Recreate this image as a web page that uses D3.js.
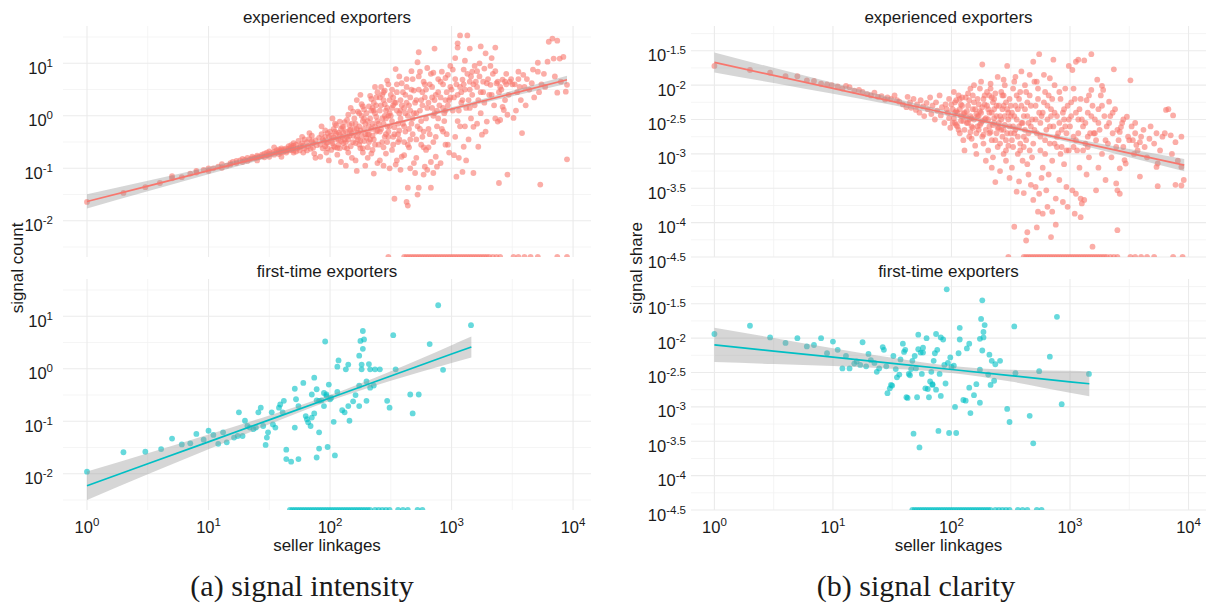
<!DOCTYPE html>
<html>
<head>
<meta charset="utf-8">
<script src="https://cdn.jsdelivr.net/npm/d3@7"></script>
<style>
    body { margin: 0; background: #fff; }
    svg text { font-family: "Liberation Sans", Arial, sans-serif; fill: #1a1a1a; }
</style>
</head>
<body>
<div id="chart"></div>
<script>
// all values are log10 (seller linkages, signal)

// experienced exporters, signal count
var expCount = [
    [0.00,-1.64],[0.30,-1.47],[0.48,-1.36],[0.60,-1.28],[0.70,-1.19],[0.70,-1.15],[0.78,-1.17],[0.85,-1.10],[0.90,-1.08],[0.90,-1.05],
    [0.96,-1.03],[1.00,-1.00],[1.00,-1.05],[1.04,-1.00],[1.08,-0.97],[1.11,-0.99],[1.11,-0.92],[1.15,-0.95],[1.18,-0.93],[1.18,-0.90],
    [1.20,-0.88],[1.23,-0.90],[1.23,-0.86],[1.26,-0.85],[1.28,-0.88],[1.28,-0.82],[1.30,-0.84],[1.32,-0.80],[1.32,-0.86],[1.34,-0.83],
    [1.36,-0.78],[1.36,-0.81],[1.38,-0.80],[1.40,-0.76],[1.40,-0.79],[1.40,-0.85],[1.42,-0.78],[1.44,-0.74],[1.44,-0.77],[1.46,-0.79],
    [1.46,-0.72],[1.48,-0.75],[1.48,-0.70],[1.50,-0.73],[1.50,-0.78],[1.50,-0.68],[1.52,-0.71],[1.54,-0.69],[1.54,-0.74],[1.54,-0.60],
    [1.56,-0.70],[1.56,-0.66],[1.58,-0.68],[1.58,-0.73],[1.58,-0.64],[1.60,-0.66],[1.60,-0.70],[1.60,-0.62],[1.60,-0.78],[1.62,-0.64],
    [1.62,-0.68],[1.64,-0.62],[1.64,-0.67],[1.64,-0.70],[1.66,-0.63],[1.66,-0.58],[1.66,-0.66],[1.68,-0.60],[1.68,-0.65],[1.68,-0.56],
    [1.70,-0.61],[1.70,-0.57],[1.70,-0.66],[1.70,-0.70],[1.70,-0.52],
    [1.72,-0.55],[1.73,-0.62],[1.74,-0.48],[1.75,-0.66],[1.76,-0.58],[1.77,-0.52],[1.78,-0.70],[1.79,-0.45],[1.75,-0.60],[1.77,-0.40],
    [1.78,-0.57],[1.72,-0.68],[1.79,-0.62],
    [1.81,-0.50],[1.82,-0.58],[1.83,-0.44],[1.84,-0.63],[1.85,-0.38],[1.86,-0.52],[1.87,-0.72],[1.88,-0.47],[1.89,-0.56],[1.83,-0.33],
    [1.86,-0.61],[1.88,-0.80],[1.85,-0.49],[1.81,-0.66],
    [1.91,-0.42],[1.92,-0.55],[1.93,-0.35],[1.94,-0.62],[1.95,-0.48],[1.96,-0.28],[1.97,-0.70],[1.98,-0.51],[1.99,-0.40],[1.92,-0.78],
    [1.94,-0.45],[1.96,-0.58],[1.98,-0.33],[1.99,-0.85],[1.93,-0.20],[1.97,-0.52],
    [2.01,-0.38],[2.02,-0.52],[2.03,-0.25],[2.04,-0.60],[2.05,-0.44],[2.06,-0.74],[2.07,-0.32],[2.08,-0.11],[2.09,-0.48],[2.01,-0.65],
    [2.03,-0.41],[2.05,-0.18],[2.06,-0.61],[2.08,-0.36],[2.09,-0.88],[2.02,-0.05],[2.04,-0.30],[2.07,-0.55],[2.10,-0.21],
    [2.11,-0.21],[2.12,-0.45],[2.13,-0.30],[2.14,-0.62],[2.15,0.02],[2.16,-0.38],[2.17,-0.27],[2.18,-0.80],[2.19,0.08],[2.11,-0.52],
    [2.12,-0.12],[2.14,-0.40],[2.15,-0.70],[2.16,-0.18],[2.18,-0.33],[2.19,-0.50],[2.13,-0.95],[2.17,0.15],[2.20,-0.25],[2.12,-0.60],
    [2.21,-0.15],[2.22,-0.40],[2.23,0.08],[2.24,-0.55],[2.25,-0.28],[2.26,0.22],[2.27,-0.70],[2.28,-0.05],[2.29,-0.35],[2.21,-0.85],
    [2.22,0.30],[2.24,-0.20],[2.25,-0.48],[2.26,0.00],[2.27,-0.62],[2.28,0.12],[2.29,-0.95],[2.23,-0.32],[2.25,0.40],[2.27,-0.10],
    [2.30,-0.42],[2.22,-1.05],[2.28,-0.25],
    [2.31,-0.10],[2.32,0.18],[2.33,-0.45],[2.34,0.32],[2.35,-0.65],[2.36,-1.10],[2.37,0.05],[2.38,-0.30],[2.39,0.45],[2.31,-0.80],
    [2.32,-0.20],[2.34,0.10],[2.35,-0.38],[2.36,0.25],[2.37,-0.55],[2.38,-0.02],[2.39,-0.90],[2.33,0.38],[2.35,-0.15],[2.37,0.55],
    [2.39,-0.28],[2.31,-0.60],[2.34,-0.72],[2.38,0.20],
    [2.41,0.10],[2.42,-0.25],[2.43,0.40],[2.44,-0.60],[2.45,0.22],[2.46,-0.05],[2.47,0.67],[2.48,-0.40],[2.49,0.30],[2.41,-0.85],
    [2.42,0.55],[2.44,-0.15],[2.45,0.00],[2.46,-0.72],[2.47,0.15],[2.48,-0.30],[2.49,-1.00],[2.43,-0.50],[2.45,0.48],[2.47,-0.20],
    [2.49,0.05],[2.41,0.35],[2.44,-0.95],[2.48,0.60],
    [2.51,-0.10],[2.52,0.20],[2.53,-1.58],[2.54,0.89],[2.54,-0.93],[2.55,0.45],[2.56,-0.35],[2.57,0.05],[2.58,-1.03],[2.59,0.62],
    [2.51,-0.65],[2.52,0.35],[2.53,-0.22],[2.55,0.10],[2.56,-0.50],[2.57,0.75],[2.58,-0.05],[2.59,-0.78],[2.51,0.50],[2.53,0.25],
    [2.55,-0.85],[2.57,-0.28],[2.58,0.30],[2.60,-0.15],[2.52,-0.40],
    [2.61,0.15],[2.62,-0.30],[2.63,-1.64],[2.64,-1.37],[2.64,-1.71],[2.63,0.55],[2.64,0.00],[2.65,-0.60],[2.66,0.35],[2.67,-0.15],
    [2.68,0.70],[2.69,-0.90],[2.61,-0.75],[2.62,0.40],[2.65,0.20],[2.66,-0.45],[2.67,0.85],[2.68,-0.05],[2.69,0.48],[2.70,-1.09],
    [2.61,-0.20],[2.66,-1.00],[2.68,-0.35],[2.63,0.25],
    [2.72,1.02],[2.72,-1.50],[2.73,1.21],[2.73,-1.37],[2.74,0.84],[2.71,0.30],[2.72,-0.20],[2.74,0.10],[2.75,-0.55],[2.76,0.45],
    [2.77,-1.12],[2.78,-0.97],[2.76,0.20],[2.77,-0.30],[2.78,0.60],[2.79,-0.05],[2.71,-0.80],[2.73,0.50],[2.75,-0.10],[2.77,0.65],
    [2.79,-0.65],[2.71,0.05],[2.76,-0.40],[2.78,0.35],
    [2.80,0.91],[2.80,-1.03],[2.83,-0.88],[2.83,-1.37],[2.85,0.82],[2.85,-1.09],[2.86,1.28],[2.87,-0.78],[2.88,-0.97],[2.81,0.25],
    [2.82,-0.35],[2.84,0.55],[2.86,0.05],[2.87,0.40],[2.88,-0.20],[2.89,0.70],[2.81,-0.60],[2.84,0.15],[2.85,-0.50],[2.86,0.30],
    [2.89,-0.05],[2.82,0.60],[2.88,0.10],
    [2.92,0.84],[2.97,0.78],[2.91,0.35],[2.92,-0.25],[2.93,0.60],[2.94,0.05],[2.95,-0.55],[2.96,0.45],[2.97,0.20],[2.98,-0.70],
    [2.99,0.95],[2.91,-0.90],[2.93,0.15],[2.95,0.72],[2.96,-0.35],[2.98,0.30],[2.94,-0.10],[2.99,0.55],
    [3.01,0.88],[3.04,-1.16],[3.05,1.30],[3.05,1.38],[3.06,-0.80],[3.07,1.53],[3.09,0.69],[3.09,-1.07],[3.10,-0.59],[3.10,0.88],
    [3.02,0.35],[3.03,-0.40],[3.04,0.60],[3.06,0.10],[3.07,-0.20],[3.08,0.45],[3.02,-0.75],[3.08,0.25],[3.03,1.10],
    [3.13,1.53],[3.15,1.28],[3.17,0.84],[3.18,-1.09],[3.18,-0.21],[3.11,0.50],[3.12,0.15],[3.14,-0.45],[3.15,0.65],[3.16,-0.05],
    [3.17,0.40],[3.19,0.95],[3.12,-0.85],[3.14,0.30],[3.16,0.75],[3.19,0.20],[3.11,1.05],
    [3.22,-0.59],[3.24,1.32],[3.25,-0.36],[3.28,1.19],[3.29,0.62],[3.29,-0.11],[3.21,0.55],[3.22,0.30],[3.23,0.75],[3.24,0.05],
    [3.26,0.45],[3.27,0.90],[3.28,-0.30],[3.23,1.00],[3.26,0.65],[3.21,-0.15],
    [3.32,0.59],[3.33,1.10],[3.36,1.30],[3.38,0.65],[3.38,-0.11],[3.39,-1.28],[3.31,0.40],[3.34,0.80],[3.35,0.20],[3.37,0.62],
    [3.39,0.45],[3.32,0.95],[3.36,-0.05],[3.40,-0.08],
    [3.42,0.69],[3.42,0.17],[3.43,0.11],[3.44,0.30],[3.46,0.02],[3.46,-1.12],[3.48,0.65],[3.41,0.50],[3.45,0.60],[3.47,0.40],
    [3.49,0.70],[3.44,0.65],
    [3.51,-0.04],[3.55,0.84],[3.58,-0.33],[3.59,0.78],[3.52,0.60],[3.54,0.45],[3.56,0.55],[3.57,0.30],[3.53,0.10],
    [3.62,0.70],[3.67,0.88],[3.64,0.50],[3.66,0.62],[3.68,0.35],[3.61,0.20],
    [3.71,0.84],[3.71,1.01],[3.73,-1.31],[3.76,0.80],[3.79,1.03],[3.80,1.41],[3.74,0.60],[3.77,0.55],[3.72,0.45],
    [3.83,1.47],[3.84,1.09],[3.87,1.43],[3.87,0.44],[3.89,1.09],[3.92,1.12],[3.94,0.46],[3.95,0.59],[3.95,-0.83],[3.85,0.75],
    [3.90,0.65],
    // dense core
    [1.96,-0.40],[1.98,-0.62],[2.00,-0.30],[2.01,-0.48],[2.03,-0.58],[2.04,-0.15],[2.05,-0.34],[2.07,-0.45],[2.08,-0.62],[2.09,-0.25],
    [2.10,-0.40],[2.11,-0.32],[2.13,-0.50],[2.14,-0.08],[2.15,-0.45],[2.16,-0.28],[2.17,-0.58],[2.18,-0.15],[2.19,-0.38],[2.20,-0.05],
    [2.21,-0.52],[2.22,-0.25],[2.23,-0.45],[2.24,0.05],[2.25,-0.62],[2.26,-0.38],[2.27,0.18],[2.28,-0.48],[2.29,-0.15],[2.30,0.05],
    [2.31,-0.35],[2.32,-0.50],[2.33,-0.05],[2.34,-0.25],[2.35,0.15],[2.36,-0.45],[2.37,-0.20],[2.38,0.35],[2.39,-0.10],[2.40,-0.55],
    [2.41,-0.30],[2.42,0.20],[2.43,-0.05],[2.44,0.30],[2.45,-0.40],[2.46,0.10],[2.47,-0.50],[2.48,0.00],[2.49,-0.20],[2.50,0.40],
    [2.51,0.15],[2.53,-0.35],[2.54,0.25],[2.56,-0.15],[2.58,0.10],[2.60,0.45],[2.62,0.05],[2.64,-0.55],[2.66,0.10],[2.70,0.25],
    [2.74,-0.25],[2.80,0.15],[2.84,0.35],[2.90,0.20],[2.95,0.30],[3.00,0.50],[3.05,0.40],[3.10,0.60],[3.15,0.50],[3.20,0.65],
    [2.32,-0.35],[2.36,0.10],[2.40,-0.15],[2.44,0.45],[2.46,-0.35],[2.50,0.00],[2.52,-0.55],[2.55,0.60],[2.57,-0.45],[2.59,0.20],
    [2.61,-0.50],[2.63,0.70],[2.65,-0.25],[2.67,0.50],[2.69,0.05],[2.71,-0.45],[2.73,0.75],[2.75,0.30],[2.77,-0.60],[2.79,0.50],
    [2.81,-0.25],[2.83,0.80],[2.85,0.00],[2.87,-0.40],[2.89,0.45],[2.91,0.65],[2.93,-0.30],[2.95,0.10],[2.97,-0.55],[2.99,0.35],
    [3.01,0.10],[3.03,0.70],[3.05,-0.10],[3.07,0.55],[3.09,0.30],[3.11,-0.20],[3.13,0.80],[3.15,0.15],[3.18,0.60],[3.21,0.85],
    [3.24,0.45],[3.27,0.25],[3.30,0.70],[3.33,0.40],[3.36,0.85],[3.40,0.55],[3.45,0.80],[3.50,0.60],[3.55,0.70],[3.60,0.55]
];

// first-time exporters, signal count
var firstCount = [
    [0.00,-1.96],[0.30,-1.59],[0.48,-1.58],[0.61,-1.53],[0.70,-1.33],[0.78,-1.44],[0.85,-1.42],[0.90,-1.24],[0.96,-1.35],[1.00,-1.18],
    [1.04,-1.26],[1.08,-1.43],[1.12,-1.21],[1.15,-1.40],[1.21,-1.31],[1.24,-1.28],[1.25,-0.83],[1.28,-1.28],[1.30,-0.99],[1.32,-1.09],
    [1.34,-1.12],[1.37,-1.15],[1.39,-1.12],[1.41,-0.83],[1.43,-0.74],[1.45,-1.09],[1.47,-1.45],[1.48,-1.31],[1.49,-1.21],[1.52,-0.83],
    [1.53,-1.06],[1.55,-1.12],[1.58,-0.74],[1.59,-0.68],[1.61,-0.83],[1.62,-0.61],[1.64,-1.54],[1.64,-1.72],[1.68,-1.77],[1.71,-0.38],
    [1.72,-0.58],[1.71,-1.12],[1.74,-1.72],[1.74,-0.71],
    [1.78,-0.27],[1.80,-0.90],[1.81,-0.96],[1.82,-1.02],[1.84,-1.09],[1.85,-0.49],[1.85,-0.93],[1.87,-0.17],[1.87,-0.85],[1.89,-0.39],
    [1.89,-0.60],[1.91,-0.61],[1.91,-1.21],[1.91,-1.52],[1.89,-1.69],[1.93,-0.60],[1.95,-0.71],[1.95,-0.46],[1.96,0.52],[1.97,-0.49],
    [1.97,-0.52],[1.98,-1.49],[1.99,-0.30],[2.00,-0.58],[2.01,-0.55],[2.03,-1.01],[2.04,-1.65],[2.06,0.04],[2.06,-0.44],[2.07,0.16],
    [2.10,-0.79],[2.12,-0.83],[2.13,-0.01],[2.15,-0.71],[2.15,0.08],[2.16,-0.99],[2.19,-0.62],[2.21,-0.50],[2.24,0.25],[2.24,-0.71],
    [2.25,0.53],[2.26,0.08],[2.26,-0.01],[2.27,0.38],[2.27,0.72],[2.28,0.56],[2.24,-0.32],[2.30,-0.24],[2.30,-0.61],[2.32,0.09],
    [2.33,-0.01],[2.33,-0.36],[2.36,-0.32],[2.37,-0.01],[2.41,-0.01],[2.47,-0.61],[2.49,-0.74],[2.52,0.64],[2.54,-0.01],[2.66,-0.49],
    [2.68,-0.85],[2.73,-0.49],[2.82,0.47],[2.89,1.21],[2.93,-0.02],[3.16,0.83]
];

// experienced exporters, signal share
var expShare = [
    [0.00,-1.72],[0.30,-1.78],[0.47,-1.82],[0.60,-1.87],[0.70,-1.87],[0.78,-1.93],[0.84,-1.94],[0.90,-1.98],[0.95,-1.99],[0.99,-2.00],
    [1.04,-2.02],[1.08,-2.05],[1.11,-2.01],[1.14,-2.03],[1.18,-2.08],[1.22,-2.07],[1.25,-2.10],[1.29,-2.13],[1.32,-2.15],[1.35,-2.11],
    [1.38,-2.17],[1.41,-2.16],[1.44,-2.21],[1.46,-2.18],[1.49,-2.20],[1.52,-2.15],[1.54,-2.22],[1.56,-2.24],[1.59,-2.28],[1.62,-2.32],
    [1.63,-2.17],
    [1.65,-2.25],[1.66,-2.33],[1.68,-2.20],[1.70,-2.36],[1.71,-2.28],[1.73,-2.40],[1.74,-2.22],[1.76,-2.31],[1.77,-2.45],[1.79,-2.26],
    [1.80,-2.35],[1.82,-2.18],[1.83,-2.42],[1.84,-2.30],[1.86,-2.50],[1.87,-2.25],[1.88,-2.37],[1.90,-2.15],[1.91,-2.44],[1.92,-2.32],
    [1.94,-2.55],[1.95,-2.28],[1.97,-2.40],[1.98,-2.20],[1.99,-2.62],
    [2.01,-2.35],[2.02,-2.48],[2.03,-2.25],[2.04,-2.58],[2.05,-2.40],[2.06,-2.15],[2.07,-2.70],[2.08,-2.45],[2.09,-2.30],[2.10,-2.52],
    [2.02,-2.10],[2.04,-2.38],[2.06,-2.65],[2.08,-2.28],[2.10,-2.80],[2.03,-2.55],[2.07,-2.20],
    [2.11,-2.40],[2.12,-2.18],[2.13,-2.55],[2.14,-2.30],[2.15,-2.75],[2.16,-2.05],[2.17,-2.48],[2.18,-2.62],[2.19,-2.25],[2.20,-2.88],
    [2.12,-2.45],[2.14,-2.12],[2.16,-2.68],[2.18,-2.35],[2.11,-2.95],[2.15,-2.50],[2.19,-2.00],[2.17,-2.78],
    [2.21,-2.42],[2.22,-2.20],[2.23,-2.65],[2.24,-2.05],[2.25,-2.55],[2.26,-1.70],[2.26,-2.32],[2.27,-2.85],[2.28,-2.15],[2.29,-2.48],
    [2.21,-3.00],[2.22,-2.60],[2.24,-2.38],[2.25,-1.95],[2.27,-2.72],[2.28,-2.28],[2.29,-3.10],[2.23,-2.45],[2.30,-2.10],[2.26,-2.52],
    [2.31,-2.35],[2.32,-2.60],[2.33,-1.98],[2.34,-2.80],[2.35,-2.25],[2.36,-2.48],[2.37,-3.41],[2.37,-2.12],[2.38,-2.70],[2.39,-1.88],
    [2.31,-2.95],[2.32,-2.40],[2.34,-2.18],[2.35,-3.05],[2.36,-2.55],[2.38,-2.30],[2.39,-2.90],[2.33,-2.05],[2.40,-2.62],[2.34,-3.20],
    [2.41,-2.45],[2.42,-2.10],[2.43,-2.75],[2.44,-1.92],[2.45,-2.58],[2.46,-3.10],[2.47,-1.72],[2.47,-2.35],[2.48,-2.88],[2.49,-2.20],
    [2.41,-3.25],[2.42,-2.65],[2.44,-2.30],[2.45,-2.00],[2.46,-2.80],[2.48,-2.50],[2.49,-3.35],[2.43,-2.15],[2.50,-2.70],[2.44,-3.00],
    [2.51,-2.40],[2.52,-2.05],[2.53,-4.06],[2.53,-2.70],[2.54,-1.88],[2.55,-3.55],[2.55,-2.50],[2.56,-3.00],[2.57,-2.20],[2.58,-2.85],
    [2.59,-1.80],[2.51,-3.20],[2.52,-2.60],[2.54,-2.30],[2.56,-2.75],[2.57,-3.40],[2.58,-2.10],[2.59,-2.55],[2.60,-3.10],[2.53,-1.95],
    [2.61,-3.57],[2.63,-4.26],[2.64,-4.14],[2.61,-2.45],[2.62,-2.00],[2.63,-2.80],[2.64,-2.25],[2.65,-3.30],[2.66,-1.85],[2.67,-2.60],
    [2.68,-3.05],[2.69,-3.67],[2.69,-1.66],[2.62,-2.35],[2.64,-3.15],[2.65,-2.70],[2.66,-2.15],[2.67,-3.45],[2.68,-2.50],[2.70,-1.95],
    [2.61,-2.90],
    [2.71,-3.48],[2.72,-4.07],[2.73,-3.84],[2.74,-1.55],[2.74,-3.58],[2.77,-3.87],[2.78,-1.85],[2.80,-3.53],[2.71,-2.30],[2.72,-2.70],
    [2.73,-2.05],[2.75,-2.95],[2.76,-2.45],[2.77,-3.20],[2.78,-2.25],[2.79,-2.80],[2.72,-1.95],[2.75,-2.55],[2.76,-3.35],[2.79,-2.10],
    [2.81,-3.77],[2.84,-4.21],[2.85,-3.84],[2.86,-1.63],[2.88,-3.65],[2.88,-4.03],[2.81,-2.50],[2.82,-2.15],[2.83,-2.85],[2.84,-2.35],
    [2.85,-3.10],[2.86,-2.60],[2.87,-2.00],[2.89,-2.90],[2.82,-3.30],[2.87,-2.40],[2.89,-2.75],[2.83,-1.90],
    [2.91,-3.38],[2.94,-3.70],[2.97,-3.48],[2.98,-3.77],[2.99,-1.72],[2.91,-2.55],[2.92,-2.20],[2.93,-2.90],[2.94,-2.40],[2.95,-3.15],
    [2.96,-2.05],[2.97,-2.70],[2.98,-2.30],[2.92,-3.00],[2.96,-2.60],[2.99,-2.95],
    [3.02,-3.53],[3.02,-1.78],[3.04,-3.87],[3.05,-3.58],[3.05,-1.66],[3.07,-1.63],[3.09,-3.65],[3.09,-3.92],[3.10,-3.72],[3.01,-2.45],
    [3.03,-2.75],[3.04,-2.20],[3.06,-2.95],[3.07,-2.50],[3.08,-3.20],[3.03,-2.05],[3.08,-2.35],
    [3.12,-1.64],[3.12,-3.67],[3.14,-2.22],[3.18,-1.55],[3.18,-2.07],[3.19,-4.35],[3.11,-2.60],[3.13,-2.85],[3.15,-2.40],[3.16,-3.05],
    [3.17,-2.70],[3.19,-2.30],[3.14,-3.30],[3.16,-2.15],
    [3.22,-3.53],[3.23,-1.92],[3.26,-2.15],[3.27,-2.01],[3.28,-2.07],[3.30,-3.38],[3.21,-2.50],[3.22,-2.80],[3.24,-2.35],[3.25,-2.65],
    [3.27,-3.00],[3.29,-2.45],[3.24,-3.20],
    [3.33,-2.24],[3.37,-1.77],[3.39,-3.43],[3.40,-3.53],[3.40,-4.11],[3.31,-2.60],[3.32,-2.85],[3.34,-2.45],[3.35,-3.05],[3.36,-2.70],
    [3.38,-2.35],[3.39,-2.90],
    [3.42,-2.68],[3.42,-3.21],[3.42,-3.58],[3.43,-2.61],[3.46,-3.09],[3.47,-3.14],[3.48,-2.46],[3.41,-2.80],[3.44,-2.55],[3.45,-2.90],
    [3.49,-2.75],
    [3.51,-1.93],[3.53,-2.80],[3.56,-2.87],[3.59,-2.83],[3.59,-3.33],[3.52,-2.60],[3.55,-2.70],[3.57,-2.95],[3.54,-3.00],
    [3.63,-2.90],[3.67,-2.78],[3.62,-2.65],[3.65,-3.05],[3.68,-2.60],
    [3.73,-2.70],[3.73,-3.19],[3.74,-3.14],[3.74,-3.47],[3.71,-2.85],[3.76,-2.95],[3.78,-2.75],
    [3.80,-2.70],[3.81,-2.36],[3.83,-2.35],[3.85,-2.73],[3.87,-2.44],[3.89,-2.83],[3.89,-3.45],[3.94,-2.75],[3.94,-3.19],[3.94,-3.46],
    [3.96,-3.38],[3.86,-3.00],[3.91,-3.10],
    // dense core
    [1.96,-2.35],[1.98,-2.48],[2.00,-2.28],[2.01,-2.55],[2.03,-2.40],[2.04,-2.22],[2.05,-2.60],[2.07,-2.35],[2.08,-2.52],[2.09,-2.18],
    [2.10,-2.42],[2.11,-2.65],[2.13,-2.38],[2.14,-2.55],[2.15,-2.22],[2.16,-2.45],[2.17,-2.60],[2.18,-2.15],[2.19,-2.50],[2.20,-2.35],
    [2.21,-2.70],[2.22,-2.45],[2.23,-2.28],[2.24,-2.58],[2.25,-2.40],[2.26,-2.75],[2.27,-2.20],[2.28,-2.50],[2.29,-2.65],[2.30,-2.30],
    [2.31,-2.50],[2.32,-2.15],[2.33,-2.68],[2.34,-2.40],[2.35,-2.58],[2.36,-2.20],[2.37,-2.80],[2.38,-2.45],[2.39,-2.62],[2.40,-2.30],
    [2.41,-2.85],[2.42,-2.50],[2.43,-2.35],[2.44,-2.65],[2.45,-2.45],[2.46,-2.25],[2.47,-2.70],[2.48,-2.40],[2.49,-2.60],[2.50,-2.30],
    [2.51,-2.80],[2.53,-2.45],[2.54,-2.65],[2.56,-2.35],[2.58,-2.95],[2.60,-2.55],[2.62,-2.65],[2.64,-2.45],[2.66,-2.95],[2.70,-2.65],
    [2.74,-2.40],[2.80,-2.65],[2.84,-2.45],[2.90,-2.70],[2.95,-2.50],[3.00,-2.60],[3.05,-2.80],[3.10,-2.50],[3.15,-2.90],[3.20,-2.70],
    [2.32,-2.70],[2.36,-2.35],[2.40,-2.55],[2.44,-2.15],[2.46,-2.95],[2.50,-2.45],[2.52,-2.90],[2.55,-2.15],[2.57,-2.60],[2.59,-2.30],
    [2.61,-2.75],[2.63,-2.10],[2.65,-2.55],[2.67,-2.30],[2.69,-2.85],[2.71,-2.50],[2.73,-2.20],[2.75,-2.75],[2.77,-2.40],[2.79,-3.00],
    [2.81,-2.30],[2.83,-2.60],[2.85,-2.20],[2.87,-2.85],[2.89,-2.45],[2.91,-2.10],[2.93,-2.65],[2.95,-2.35],[2.97,-2.95],[2.99,-2.50],
    [3.01,-2.25],[3.03,-2.90],[3.05,-2.40],[3.07,-2.70],[3.09,-2.20],[3.11,-2.95],[3.13,-2.55],[3.15,-2.75],[3.18,-2.45],[3.21,-2.70],
    [3.24,-2.55],[3.27,-2.30],[3.30,-2.80],[3.33,-2.55],[3.36,-2.40],[3.40,-2.65],[3.45,-2.50],[3.50,-2.80],[3.55,-2.55],[3.60,-2.75]
];

// first-time exporters, signal share
var firstShare = [
    [0.00,-1.94],[0.30,-1.82],[0.47,-1.99],[0.60,-2.07],[0.70,-2.00],[0.78,-2.12],[0.84,-2.10],[0.90,-2.00],[0.95,-2.22],[1.00,-2.05],
    [1.04,-2.17],[1.08,-2.44],[1.11,-2.26],[1.14,-2.44],[1.18,-2.37],[1.20,-2.34],[1.23,-2.39],[1.25,-2.06],[1.28,-2.41],[1.30,-2.23],
    [1.32,-2.32],[1.35,-2.36],[1.37,-2.49],[1.39,-2.44],[1.42,-2.13],[1.43,-2.17],[1.45,-2.41],[1.46,-2.80],[1.48,-2.73],[1.49,-2.68],
    [1.50,-2.69],[1.51,-2.26],[1.53,-2.45],[1.54,-2.57],[1.56,-2.53],[1.57,-2.31],[1.59,-2.08],[1.60,-2.20],[1.61,-2.17],[1.62,-2.86],
    [1.63,-2.87],[1.64,-2.52],[1.65,-2.54],[1.66,-2.45],[1.67,-2.33],[1.68,-3.39],[1.70,-2.44],[1.69,-2.26],[1.71,-2.86],[1.72,-1.95],
    [1.72,-2.16],[1.73,-3.59],[1.74,-2.21],[1.75,-2.52],[1.76,-2.21],[1.76,-2.14],[1.78,-2.73],[1.79,-2.00],[1.80,-2.74],[1.81,-2.86],
    [1.82,-2.63],[1.83,-2.49],[1.84,-2.68],[1.84,-2.67],[1.85,-2.33],[1.86,-2.22],[1.87,-1.94],[1.87,-2.75],[1.88,-2.17],[1.89,-3.35],
    [1.90,-2.52],[1.91,-1.99],[1.91,-2.84],[1.93,-2.02],[1.95,-2.66],[1.94,-2.39],[1.96,-1.29],[1.97,-2.36],[1.98,-3.38],[1.99,-2.28],
    [2.00,-2.42],[2.02,-2.40],[2.03,-3.00],[2.04,-3.38],[2.06,-2.22],[2.07,-2.02],[2.07,-1.85],[2.10,-2.90],[2.12,-2.91],[2.13,-2.15],
    [2.15,-2.72],[2.15,-2.08],[2.16,-3.09],[2.19,-2.83],[2.21,-2.67],[2.24,-2.46],[2.24,-2.01],[2.24,-2.94],[2.26,-2.18],[2.25,-1.72],
    [2.26,-1.45],[2.27,-1.99],[2.27,-1.91],[2.28,-1.81],[2.31,-2.53],[2.32,-2.24],[2.33,-2.68],[2.34,-2.33],[2.36,-2.62],[2.37,-2.38],
    [2.41,-2.33],[2.47,-3.03],[2.49,-3.22],[2.53,-1.83],[2.54,-2.51],[2.66,-3.13],[2.69,-3.53],[2.74,-2.48],[2.83,-2.27],[2.89,-1.69],
    [2.93,-2.96],[3.16,-2.52]
];

// log10 linkages of firms with zero signals (drawn at the panel floor)
var expZeros = [2.48, 2.61, 2.63, 2.65, 2.67, 2.69, 2.71, 2.73, 2.75, 2.77, 2.79, 2.81, 2.83, 2.85, 2.87, 2.89, 2.91, 2.93,
    2.95, 2.97, 2.99, 3.01, 3.03, 3.05, 3.07, 3.09, 3.11, 3.13, 3.15, 3.17, 3.19, 3.21, 3.23, 3.25, 3.27, 3.29, 3.31, 3.34,
    3.37, 3.40, 3.51, 3.55, 3.60, 3.65, 3.71, 3.87, 3.95];
var firstZeros = [1.67, 1.69, 1.71, 1.73, 1.75, 1.77, 1.79, 1.81, 1.83, 1.85, 1.87, 1.89, 1.91, 1.93, 1.95, 1.97, 1.99,
    2.01, 2.03, 2.05, 2.07, 2.09, 2.11, 2.13, 2.15, 2.17, 2.19, 2.21, 2.23, 2.25, 2.27, 2.29, 2.31, 2.33, 2.37, 2.40, 2.43,
    2.46, 2.49, 2.56, 2.60, 2.64, 2.72, 2.76];

// fitted lines and confidence bands
var expCountBandX = [0, 0.5, 1, 1.5, 2, 2.5, 3, 3.5, 3.95];
var expCountFit = [-1.632, -1.339, -1.045, -0.752, -0.458, -0.165, 0.129, 0.423, 0.687];
var expCountHi = [-1.497, -1.239, -0.975, -0.707, -0.430, -0.143, 0.161, 0.475, 0.762];
var expCountLo = [-1.767, -1.439, -1.115, -0.797, -0.486, -0.187, 0.097, 0.371, 0.612];

var firstCountBandX = [0, 0.5, 1, 1.5, 2, 2.5, 3, 3.163];
var firstCountFit = [-2.228, -1.810, -1.392, -0.974, -0.556, -0.138, 0.280, 0.416];
var firstCountHi = [-1.958, -1.610, -1.252, -0.889, -0.501, -0.048, 0.450, 0.616];
var firstCountLo = [-2.498, -2.010, -1.532, -1.059, -0.611, -0.228, 0.110, 0.216];

var expShareBandX = [0, 0.5, 1, 1.5, 2, 2.5, 3, 3.5, 3.964];
var expShareFit = [-1.670, -1.859, -2.047, -2.236, -2.424, -2.613, -2.801, -2.990, -3.164];
var expShareHi = [-1.525, -1.749, -1.967, -2.184, -2.391, -2.588, -2.766, -2.930, -3.074];
var expShareLo = [-1.815, -1.969, -2.127, -2.288, -2.457, -2.638, -2.836, -3.050, -3.254];

var firstShareBandX = [0, 0.5, 1, 1.5, 2, 2.5, 3, 3.163];
var firstShareFit = [-2.098, -2.188, -2.277, -2.367, -2.456, -2.546, -2.635, -2.664];
var firstShareHi = [-1.848, -1.998, -2.147, -2.287, -2.406, -2.461, -2.475, -2.484];
var firstShareLo = [-2.348, -2.378, -2.407, -2.447, -2.506, -2.631, -2.795, -2.844];

// axis breaks (log10)
var xTicks = [0, 1, 2, 3, 4];
var xMinor = [0.5, 1.5, 2.5, 3.5];
var countTicks = [-2, -1, 0, 1];
var countMinor = [-2.5, -1.5, -0.5, 0.5, 1.5];
var shareTicks = [-4.5, -4, -3.5, -3, -2.5, -2, -1.5];
var shareMinor = [-4.25, -3.75, -3.25, -2.75, -2.25, -1.75, -1.25];

var red = "#F8766D",
    teal = "#00BFC4";

var svg = d3
    .select("#chart")
    .append("svg")
    .attr("width", 1206)
    .attr("height", 604);

// shared x scales (ggplot style 5% expansion around 10^0..10^3.95)
var xDomain = [-0.1975, 4.1475];
var xA = d3.scaleLinear().domain(xDomain).range([63, 591]);
var xB = d3.scaleLinear().domain(xDomain).range([691, 1206]);

var facets = [
    { pts: expCount, zeros: expZeros, bx: expCountBandX, fit: expCountFit, hi: expCountHi, lo: expCountLo,
      color: red, x: xA, top: 26, bottom: 257, dom: [-2.69, 1.71], ticks: countTicks, minor: countMinor,
      labelX: 53, strip: "experienced exporters", stripY: 23 },
    { pts: firstCount, zeros: firstZeros, bx: firstCountBandX, fit: firstCountFit, hi: firstCountHi, lo: firstCountLo,
      color: teal, x: xA, top: 279, bottom: 510, dom: [-2.69, 1.71], ticks: countTicks, minor: countMinor,
      labelX: 53, strip: "first-time exporters", stripY: 276.5 },
    { pts: expShare, zeros: expZeros, bx: expShareBandX, fit: expShareFit, hi: expShareHi, lo: expShareLo,
      color: red, x: xB, top: 26, bottom: 257, dom: [-4.5, -1.14], ticks: shareTicks, minor: shareMinor,
      labelX: 686, strip: "experienced exporters", stripY: 23 },
    { pts: firstShare, zeros: firstZeros, bx: firstShareBandX, fit: firstShareFit, hi: firstShareHi, lo: firstShareLo,
      color: teal, x: xB, top: 279, bottom: 510, dom: [-4.5, -1.14], ticks: shareTicks, minor: shareMinor,
      labelX: 686, strip: "first-time exporters", stripY: 276.5 }
];

// writes 10^k with a raised exponent
function powerLabel(sel) {
    sel.append("tspan").text("10");
    sel.append("tspan")
        .attr("dy", "-0.6em")
        .attr("font-size", "11.5px")
        .text(function (d) {
            return String(d);
        });
}

facets.forEach(function (f, i) {
    var x = f.x;
    var y = d3.scaleLinear().domain(f.dom).range([f.bottom, f.top]);
    var x0 = x.range()[0],
        x1 = x.range()[1];

    svg.append("clipPath")
        .attr("id", "clip" + i)
        .append("rect")
        .attr("x", x0)
        .attr("y", f.top)
        .attr("width", x1 - x0)
        .attr("height", f.bottom - f.top);

    var g = svg.append("g");

    // minor grid
    g.selectAll(".hmin")
        .data(f.minor)
        .enter()
        .append("line")
        .attr("x1", x0)
        .attr("x2", x1)
        .attr("y1", function (d) { return y(d); })
        .attr("y2", function (d) { return y(d); })
        .attr("stroke", "#f3f3f3")
        .attr("stroke-width", 0.8);
    g.selectAll(".vmin")
        .data(xMinor)
        .enter()
        .append("line")
        .attr("x1", function (d) { return x(d); })
        .attr("x2", function (d) { return x(d); })
        .attr("y1", f.top)
        .attr("y2", f.bottom)
        .attr("stroke", "#f3f3f3")
        .attr("stroke-width", 0.8);

    // major grid
    g.selectAll(".hmaj")
        .data(f.ticks)
        .enter()
        .append("line")
        .attr("x1", x0)
        .attr("x2", x1)
        .attr("y1", function (d) { return y(d); })
        .attr("y2", function (d) { return y(d); })
        .attr("stroke", "#ebebeb")
        .attr("stroke-width", 1.1);
    g.selectAll(".vmaj")
        .data(xTicks)
        .enter()
        .append("line")
        .attr("x1", function (d) { return x(d); })
        .attr("x2", function (d) { return x(d); })
        .attr("y1", f.top)
        .attr("y2", f.bottom)
        .attr("stroke", "#ebebeb")
        .attr("stroke-width", 1.1);

    var plot = g.append("g").attr("clip-path", "url(#clip" + i + ")");

    // scatter
    plot.selectAll(".pt")
        .data(f.pts)
        .enter()
        .append("circle")
        .attr("cx", function (d) { return x(d[0]); })
        .attr("cy", function (d) { return y(d[1]); })
        .attr("r", 2.9)
        .attr("fill", f.color)
        .attr("fill-opacity", 0.6);

    // zero-signal firms sit on the floor
    plot.selectAll(".zero")
        .data(f.zeros)
        .enter()
        .append("circle")
        .attr("cx", function (d) { return x(d); })
        .attr("cy", f.bottom)
        .attr("r", 2.9)
        .attr("fill", f.color)
        .attr("fill-opacity", 0.6);

    // confidence band
    var band = f.bx.map(function (v, j) {
        return [v, f.lo[j], f.hi[j], f.fit[j]];
    });
    plot.append("path")
        .datum(band)
        .attr("fill", "#999999")
        .attr("fill-opacity", 0.4)
        .attr("d", d3.area()
            .curve(d3.curveMonotoneX)
            .x(function (d) { return x(d[0]); })
            .y0(function (d) { return y(d[1]); })
            .y1(function (d) { return y(d[2]); }));

    // fitted line
    plot.append("path")
        .datum(band)
        .attr("fill", "none")
        .attr("stroke", f.color)
        .attr("stroke-width", 1.7)
        .attr("d", d3.line()
            .x(function (d) { return x(d[0]); })
            .y(function (d) { return y(d[3]); }));

    // y tick labels
    g.selectAll(".ylab")
        .data(f.ticks)
        .enter()
        .append("text")
        .attr("x", f.labelX)
        .attr("y", function (d) { return y(d) + 10.5; })
        .attr("text-anchor", "end")
        .attr("font-size", "16.5px")
        .attr("fill", "#222")
        .call(powerLabel);

    // strip title
    g.append("text")
        .attr("x", (x0 + x1) / 2)
        .attr("y", f.stripY)
        .attr("text-anchor", "middle")
        .attr("font-size", "17px")
        .text(f.strip);
});

// x tick labels and titles per panel
[xA, xB].forEach(function (x, k) {
    var mid = (x.range()[0] + x.range()[1]) / 2;
    svg.append("g")
        .selectAll("text")
        .data(xTicks)
        .enter()
        .append("text")
        .attr("x", function (d) { return x(d); })
        .attr("y", 533)
        .attr("text-anchor", "middle")
        .attr("font-size", "16.5px")
        .attr("fill", "#222")
        .call(powerLabel);

    svg.append("text")
        .attr("x", mid)
        .attr("y", 551)
        .attr("text-anchor", "middle")
        .attr("font-size", "17px")
        .text("seller linkages");

    svg.append("text")
        .attr("transform", "translate(" + (k === 0 ? 23 : 642) + ",268) rotate(-90)")
        .attr("text-anchor", "middle")
        .attr("font-size", "17px")
        .text(k === 0 ? "signal count" : "signal share");
});

// sub-figure captions
svg.append("text")
    .attr("x", 302)
    .attr("y", 596)
    .attr("text-anchor", "middle")
    .style("font-family", "'Liberation Serif', 'Times New Roman', serif")
    .attr("font-size", "30px")
    .text("(a) signal intensity");

svg.append("text")
    .attr("x", 916)
    .attr("y", 596)
    .attr("text-anchor", "middle")
    .style("font-family", "'Liberation Serif', 'Times New Roman', serif")
    .attr("font-size", "30px")
    .text("(b) signal clarity");
</script>
</body>
</html>
